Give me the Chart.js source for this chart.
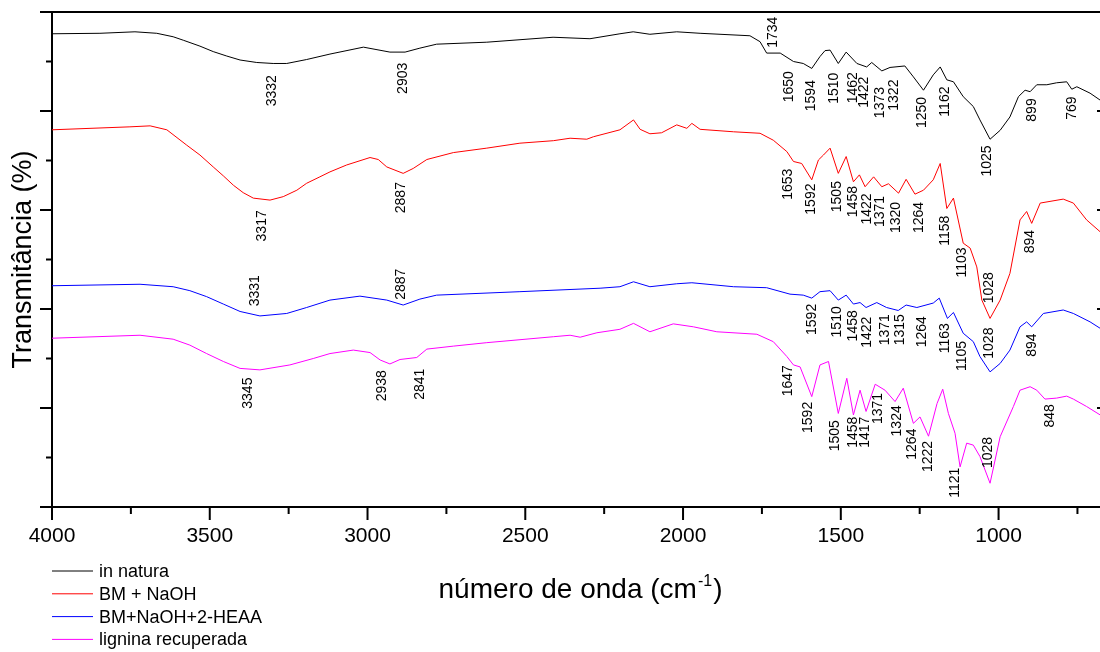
<!DOCTYPE html>
<html><head><meta charset="utf-8">
<script src="https://cdn.jsdelivr.net/npm/chart.js@4.4.0/dist/chart.umd.min.js"></script>
<style>
html,body{margin:0;padding:0;background:#fff;overflow:hidden;width:1100px;height:652px}
#wrap{position:absolute;left:0;top:0;width:1120px;height:652px}
</style></head>
<body><div id="wrap"><canvas id="c" width="1120" height="652"></canvas></div>
<script>
const FONT = '"Liberation Sans", Arial, Helvetica, sans-serif';

const seriesNames = ['in natura', 'BM + NaOH', 'BM+NaOH+2-HEAA', 'lignina recuperada'];
const seriesColors = ['#000000', '#ff0000', '#0000ff', '#ff00ff'];
const xMajorTicks = [4000, 3500, 3000, 2500, 2000, 1500, 1000];
const xMinorTicks = [3750, 3250, 2750, 2250, 1750, 1250, 750];
const yTickValues = [0, 10, 20, 30, 40, 50, 60, 70, 80, 90, 100];

const inNaturaWn = [4000,3848,3737,3668,3616,3584,3531,3489,3446,3404,3351,3299,3256,3193,3119,3013,2929,2881,2834,2781,2622,2412,2295,2200,2158,2105,2020,1946,1788,1756,1735,1692,1650,1619,1592,1566,1550,1534,1508,1483,1449,1418,1402,1370,1344,1297,1270,1238,1207,1185,1164,1143,1112,1080,1059,1027,995,964,937,916,900,879,847,816,784,768,752,710,678];
const inNaturaT = [95.6,95.7,96.0,95.7,95.0,94.3,93.1,92.0,91.1,90.3,89.8,89.6,89.6,90.4,91.5,92.9,91.9,91.9,92.7,93.5,93.9,94.9,94.6,95.6,96.0,95.5,96.0,95.7,95.2,94.0,91.7,91.7,90.0,89.6,88.6,91.0,92.2,92.3,89.6,91.9,89.6,88.9,89.8,88.1,88.8,89.1,86.9,84.2,87.3,88.9,86.3,85.9,82.9,80.9,78.2,74.3,76.1,78.8,82.9,84.2,83.9,85.3,85.3,85.7,85.9,84.4,84.9,83.6,82.2];

const bmNaohWn = [4000,3753,3689,3636,3573,3531,3489,3457,3425,3394,3362,3309,3267,3224,3193,3151,3119,3066,2992,2966,2939,2887,2855,2812,2728,2622,2517,2411,2358,2305,2284,2200,2157,2136,2105,2068,2020,1988,1972,1946,1840,1756,1714,1671,1650,1624,1592,1571,1555,1534,1508,1483,1460,1441,1423,1396,1370,1349,1317,1293,1265,1238,1207,1185,1164,1143,1112,1090,1069,1053,1027,995,964,932,911,895,868,795,763,721,678];
const bmNaohT = [76.2,76.8,77.0,76.2,73.1,71.1,68.7,66.9,65.0,63.5,62.4,62.0,62.7,64.0,65.4,66.7,67.7,69.1,70.6,70.2,68.7,67.4,68.4,70.2,71.6,72.5,73.5,74.0,74.5,74.3,74.8,76.2,78.2,76.3,75.4,75.6,77.2,76.5,77.5,76.3,75.8,75.5,74.1,71.8,69.8,69.4,66.1,70.1,71.1,72.5,67.4,70.8,65.7,67.1,64.7,66.7,64.7,65.3,63.4,66.2,63.2,64.0,66.1,69.4,60.3,62.4,53.3,52.3,48.5,41.8,38.1,41.8,47.2,58.0,59.7,57.3,61.4,62.2,61.4,58.0,55.6];

const heaaWn = [4000,3721,3616,3563,3510,3457,3404,3341,3256,3193,3119,3024,2939,2887,2834,2781,2517,2263,2200,2157,2105,2020,1972,1840,1735,1661,1619,1592,1566,1534,1508,1483,1460,1439,1420,1386,1355,1318,1293,1259,1207,1188,1162,1143,1112,1080,1059,1027,995,964,932,911,895,858,795,763,710,678];
const heaaT = [44.7,45.0,44.5,43.7,42.5,41.0,39.5,38.6,39.1,40.3,41.8,42.6,41.8,40.8,42.0,42.8,43.5,44.2,44.5,45.5,44.5,45.1,45.3,44.5,44.3,43.0,42.8,42.2,43.5,43.7,41.8,42.8,41.0,41.3,40.3,41.3,40.3,39.7,40.8,40.3,41.2,42.2,38.1,39.3,35.1,33.4,30.4,27.3,29.0,31.7,36.4,37.4,36.4,39.1,39.8,39.1,37.4,36.1];

const ligninaWn = [4000,3721,3616,3563,3510,3457,3404,3341,3246,3172,3119,3045,2992,2960,2929,2897,2844,2812,2728,2622,2411,2358,2326,2273,2200,2157,2105,2031,1967,1893,1766,1714,1671,1650,1629,1592,1566,1539,1508,1481,1460,1439,1420,1391,1360,1328,1302,1270,1249,1222,1195,1177,1159,1138,1122,1101,1080,1059,1027,995,953,932,900,879,853,816,784,763,721,678];
const ligninaT = [34.1,34.7,33.9,32.7,31.0,29.4,28.0,27.7,28.7,30.0,31.0,31.7,31.2,29.7,28.9,29.8,30.2,31.9,32.5,33.2,34.4,34.7,34.3,35.2,35.9,37.1,35.4,37.0,36.4,35.4,34.9,33.4,30.4,28.7,28.3,22.3,28.7,29.4,18.9,26.0,18.6,23.6,19.3,24.8,23.6,21.3,24.0,16.9,18.2,14.3,20.9,23.8,18.9,14.9,8.1,12.9,12.5,10.2,4.8,14.2,20.3,23.6,24.3,23.6,21.8,22.0,22.4,21.8,20.3,18.6];

// peak annotations: [text, wavenumber anchor, transmittance anchor]
const inNaturaPeaks = [['3332',3302,84.1],['2903',2888,86.6],['1734',1714,95.9],['1650',1663,84.9],['1594',1595,83.1],['1510',1521,84.6],['1462',1462,84.7],['1422',1426,83.8],['1373',1375,81.7],['1322',1331,83.2],['1250',1243,79.7],['1162',1170,81.9],['1025',1035,69.9],['899',895,80.2],['769',768,80.6]];
const bmNaohPeaks = [['3317',3333,56.8],['2887',2892,62.5],['1653',1666,65.2],['1592',1595,62.2],['1505',1511,62.7],['1458',1462,61.7],['1422',1416,60.2],['1371',1375,59.7],['1320',1325,58.5],['1264',1251,58.5],['1158',1170,55.8],['1103',1117,49.4],['1028',1029,44.3],['894',900,53.6]];
const heaaPeaks = [['3331',3357,43.7],['2887',2892,45.0],['1592',1592,37.9],['1510',1513,37.4],['1458',1462,36.6],['1422',1416,35.3],['1371',1360,35.8],['1315',1312,35.8],['1264',1243,35.4],['1163',1170,34.1],['1105',1117,30.5],['1028',1029,33.1],['894',895,32.7]];
const ligninaPeaks = [['3345',3378,23.0],['2938',2955,24.5],['2841',2834,24.8],['1647',1666,25.5],['1592',1603,18.1],['1505',1518,14.4],['1458',1460,15.1],['1417',1423,15.1],['1371',1381,19.9],['1324',1323,17.4],['1264',1275,12.7],['1222',1222,10.2],['1121',1138,4.9],['1028',1032,11.0],['848',837,18.4]];

const seriesWn = [inNaturaWn, bmNaohWn, heaaWn, ligninaWn];
const seriesT = [inNaturaT, bmNaohT, heaaT, ligninaT];
const allPeaks = [inNaturaPeaks, bmNaohPeaks, heaaPeaks, ligninaPeaks];

const datasets = seriesNames.map((name, i) => ({
  label: name,
  data: seriesWn[i].map((w, j) => ({x: w, y: seriesT[i][j]})),
  borderColor: seriesColors[i],
  backgroundColor: seriesColors[i],
  borderWidth: 1,
  pointRadius: 0,
  tension: 0,
  fill: false
}));

function seg(ctx, x1, y1, x2, y2) { ctx.moveTo(x1, y1); ctx.lineTo(x2, y2); }

const framePlugin = {
  id: 'frameTicks',
  afterDraw(chart) {
    const {ctx, chartArea: a, scales: {x, y}} = chart;
    ctx.save();
    ctx.strokeStyle = '#000';
    ctx.lineWidth = 2;
    ctx.beginPath();
    seg(ctx, a.left, a.top, a.right + 1, a.top);
    seg(ctx, a.right, a.top, a.right, a.bottom);
    xMajorTicks.forEach(v => { const p = x.getPixelForValue(v); seg(ctx, p, a.bottom, p, a.bottom + 13); });
    xMinorTicks.forEach(v => { const p = x.getPixelForValue(v); seg(ctx, p, a.bottom, p, a.bottom + 7); });
    yTickValues.forEach(v => {
      const p = y.getPixelForValue(v);
      const len = v % 20 === 0 ? 12 : 6;
      seg(ctx, a.left - len, p, a.left, p);
      seg(ctx, a.right - len, p, a.right, p);
    });
    ctx.stroke();
    ctx.restore();
  }
};

const peakPlugin = {
  id: 'peakLabels',
  afterDatasetsDraw(chart) {
    const {ctx, scales: {x, y}} = chart;
    ctx.save();
    ctx.fillStyle = '#000';
    ctx.font = '14px ' + FONT;
    ctx.textAlign = 'center';
    ctx.textBaseline = 'middle';
    allPeaks.forEach(list => list.forEach(([t, w, v]) => {
      ctx.save();
      ctx.translate(x.getPixelForValue(w), y.getPixelForValue(v));
      ctx.rotate(-Math.PI / 2);
      ctx.fillText(t, 0, 0);
      ctx.restore();
    }));
    ctx.restore();
  }
};

const legendPlugin = {
  id: 'sideLegend',
  afterDraw(chart) {
    const {ctx} = chart;
    ctx.save();
    ctx.font = '18px ' + FONT;
    ctx.textBaseline = 'middle';
    ctx.textAlign = 'left';
    chart.data.datasets.forEach((ds, i) => {
      const yy = 571 + i * 22.8;
      ctx.strokeStyle = ds.borderColor;
      ctx.lineWidth = 1;
      ctx.beginPath();
      ctx.moveTo(52, yy); ctx.lineTo(93, yy);
      ctx.stroke();
      ctx.fillStyle = '#000';
      ctx.fillText(ds.label, 99, yy + 1);
    });
    ctx.restore();
  }
};

const xTitlePlugin = {
  id: 'xTitle',
  afterDraw(chart) {
    const {ctx, chartArea: a} = chart;
    const main = 'número de onda (cm', sup = '-1', close = ')';
    const big = '28px ' + FONT, small = '16px ' + FONT;
    ctx.save();
    ctx.fillStyle = '#000';
    ctx.textBaseline = 'alphabetic';
    ctx.textAlign = 'left';
    ctx.font = big; const w1 = ctx.measureText(main).width; const w3 = ctx.measureText(close).width;
    ctx.font = small; const w2 = ctx.measureText(sup).width;
    const total = w1 + w2 + w3 + 2;
    let xx = (a.left + a.right) / 2 - total / 2;
    const base = 598;
    ctx.font = big; ctx.fillText(main, xx, base); xx += w1 + 1;
    ctx.font = small; ctx.fillText(sup, xx, base - 12); xx += w2 + 1;
    ctx.font = big; ctx.fillText(close, xx, base);
    ctx.restore();
  }
};

new Chart(document.getElementById('c').getContext('2d'), {
  type: 'line',
  data: {datasets},
  options: {
    responsive: false,
    animation: false,
    devicePixelRatio: 1,
    layout: {padding: {top: 12, right: 11, left: 0, bottom: 0}},
    plugins: {legend: {display: false}, tooltip: {enabled: false}},
    scales: {
      x: {
        type: 'linear', reverse: true, min: 650, max: 4000,
        afterBuildTicks: s => { s.ticks = xMajorTicks.map(v => ({value: v})); },
        afterFit: s => { s.height = 145; },
        grid: {display: false, drawTicks: false},
        border: {display: true, color: '#000', width: 2},
        ticks: {color: '#000', font: {family: FONT, size: 21}, padding: 17, maxRotation: 0, autoSkip: false,
                callback: v => String(v)}
      },
      y: {
        type: 'linear', min: 0, max: 100,
        afterFit: s => { s.width = 52; },
        grid: {display: false, drawTicks: false},
        border: {display: true, color: '#000', width: 2},
        ticks: {display: false},
        title: {display: true, text: 'Transmitância (%)', color: '#000', font: {family: FONT, size: 27}, padding: {top: 7, bottom: 0}}
      }
    }
  },
  plugins: [framePlugin, peakPlugin, legendPlugin, xTitlePlugin]
});
</script>
</body></html>
